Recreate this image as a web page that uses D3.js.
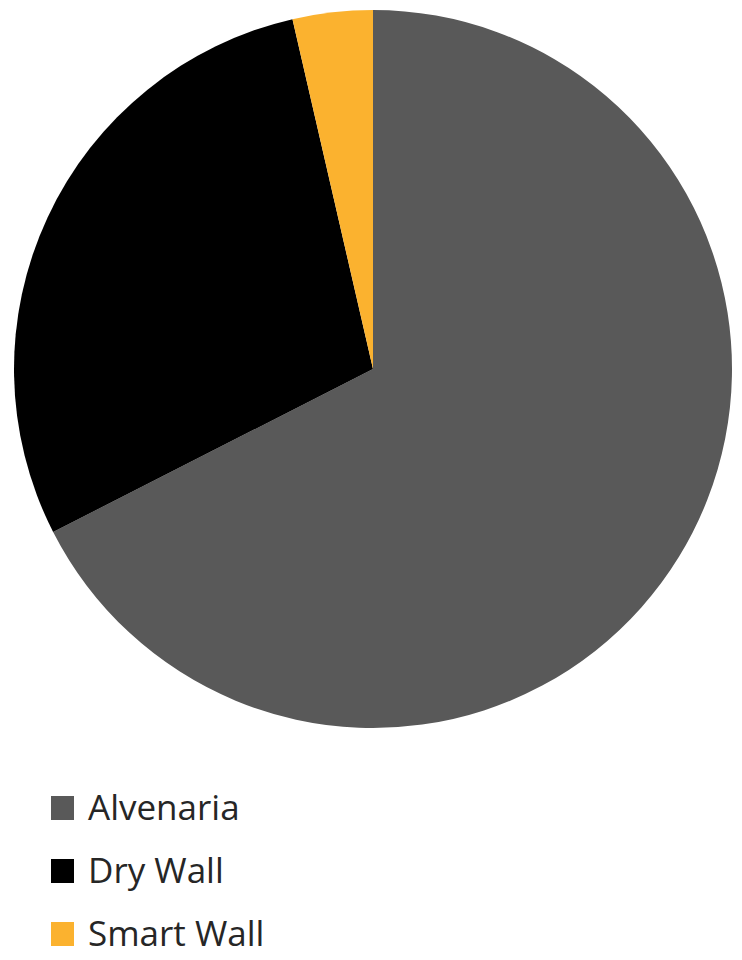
<!DOCTYPE html>
<html>
<head>
	<style>
		body { margin: 0; background: #fff; }
	</style>
	<script src="https://d3js.org/d3.v7.min.js"></script>
</head>
<body>
	<svg id="chart" width="742" height="960"></svg>
<script>
// pie data (share in %)
var categories = ["Alvenaria", "Dry Wall", "Smart Wall"];
var values = [67.5, 28.9, 3.6];
var colors = ["#595959", "#000000", "#FBB22F"];

var svg = d3.select("svg#chart");
let cx = 373, cy = 369, radius = 359;

let pie = d3.pie().sort(null).value(d => d.value);
let arc = d3.arc().innerRadius(0).outerRadius(radius);

let data = categories.map((c, i) => ({name: c, value: values[i]}));
let color = d3.scaleOrdinal().domain(categories).range(colors);

let g = svg.append("g")
	.attr("transform", "translate(" + cx + "," + cy + ")");

g.selectAll("path").data(pie(data))
	.enter()
	.append("path")
	.attr("d", arc)
	.attr("fill", d => color(d.data.name));

// legend
let legend = svg.append("g").attr("transform", "translate(51,796)");
let rowY = d3.scalePoint().domain(categories).range([0, 126]);

let item = legend.selectAll("g").data(categories)
	.enter()
	.append("g")
	.attr("transform", d => "translate(0," + rowY(d) + ")");

item.append("rect")
	.attr("width", 23)
	.attr("height", 24)
	.attr("fill", d => color(d));

item.append("text")
	.attr("x", 37)
	.attr("y", 24)
	.style("font-family", "'Open Sans', sans-serif")
	.style("font-size", "35px")
	.attr("fill", "#262626")
	.text(d => d);
</script>
</body>
</html>
